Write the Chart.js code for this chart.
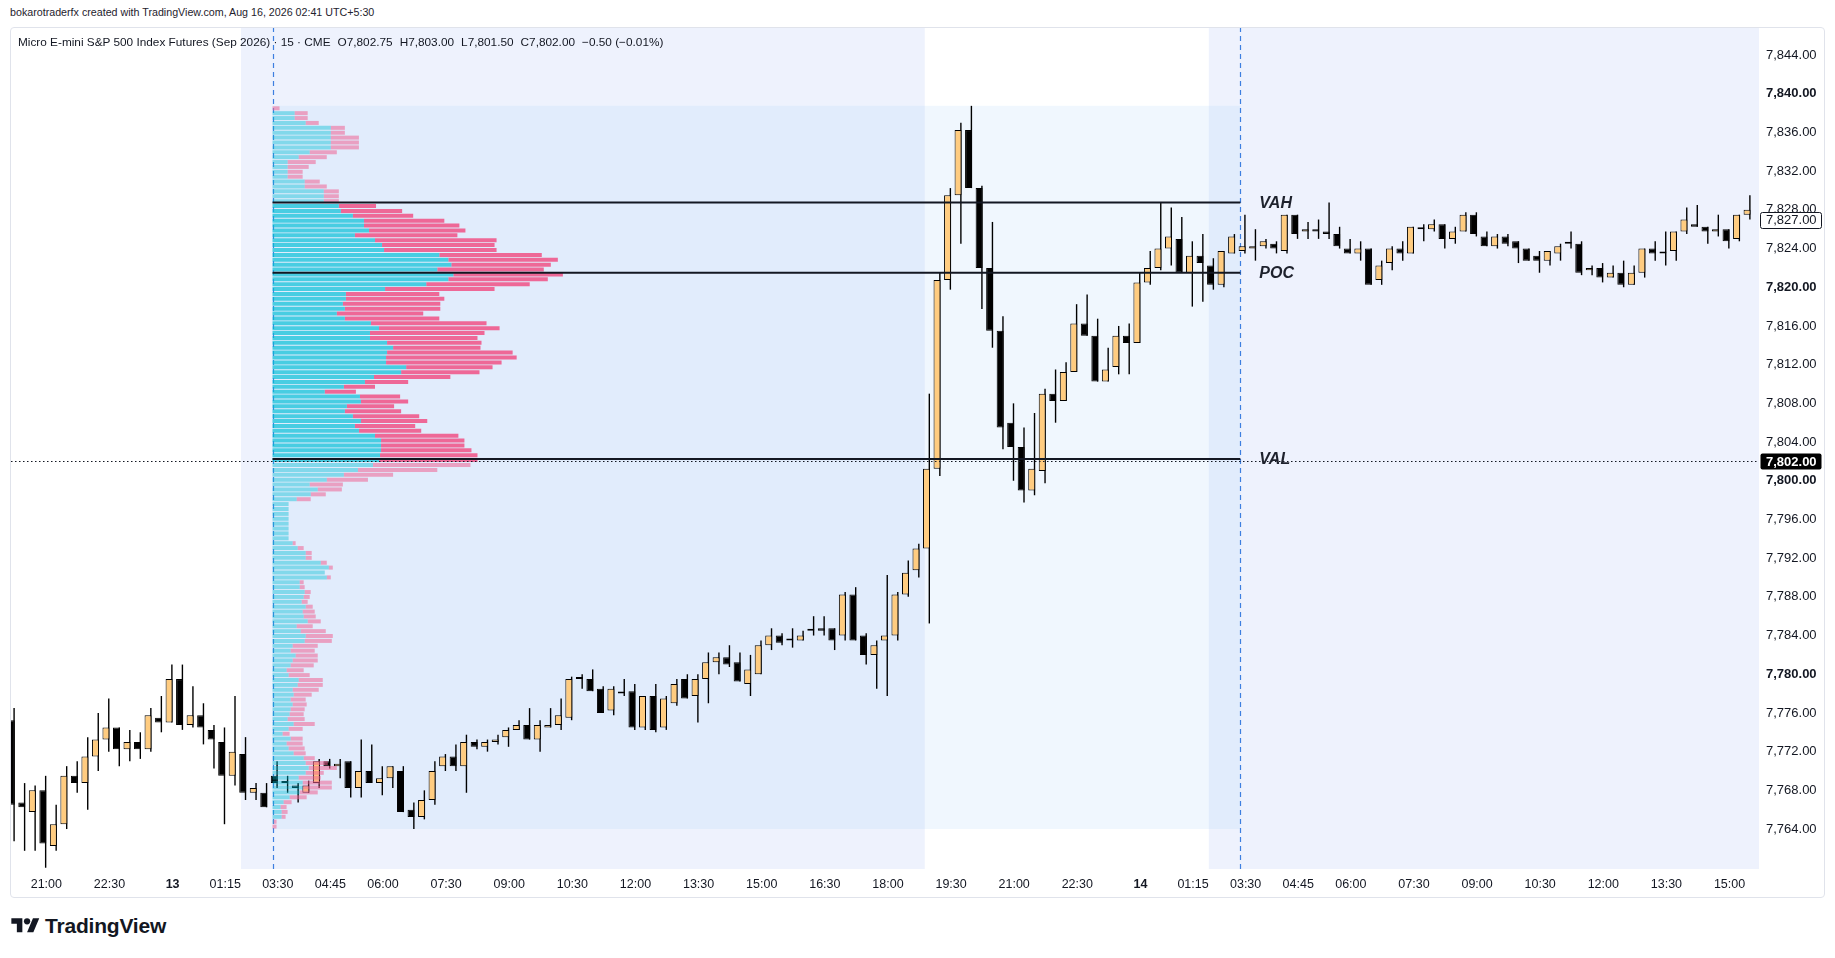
<!DOCTYPE html>
<html>
<head>
<meta charset="utf-8">
<script src="https://cdn.jsdelivr.net/npm/chart.js@4.4.1/dist/chart.umd.min.js"></script>
<style>
  html, body { margin: 0; padding: 0; background: #fff; width: 1835px; height: 958px; overflow: hidden; }
  body { font-family: "Liberation Sans", Arial, sans-serif; color: #131722; }
  #hdr { position: absolute; left: 10px; top: 6px; font-size: 10.7px; color: #1e222d; white-space: nowrap; }
  #wrap { position: absolute; left: 11px; top: 7px; width: 1813px; height: 890px; }
  #frame { position: absolute; left: 10px; top: 27px; width: 1815px; height: 871px; box-sizing: border-box;
           border: 1px solid #e0e3eb; border-radius: 4px; pointer-events: none; }
  #legend { position: absolute; left: 18px; top: 35px; font-size: 11.8px; white-space: nowrap; color: #131722; }
  #legend span { margin-left: 7px; }
  #logo { position: absolute; left: 11px; top: 914px; display: flex; align-items: center; }
  #logo b { font-size: 21px; font-weight: bold; margin-left: 5px; letter-spacing: -0.2px; color: #131722; }
</style>
</head>
<body>
<div id="hdr">bokarotraderfx created with TradingView.com, Aug 16, 2026 02:41 UTC+5:30</div>
<div id="wrap"><canvas id="myChart"></canvas></div>
<div id="frame"></div>
<div id="legend">Micro E-mini S&amp;P 500 Index Futures (Sep 2026) · 15 · CME<span>O7,802.75</span><span>H7,803.00</span><span>L7,801.50</span><span>C7,802.00</span><span>−0.50 (−0.01%)</span></div>
<div id="logo">
  <svg width="29" height="22" viewBox="0 0 36 28"><path d="M14 22H7V11H0V4h14v18zM28 22h-8l7.5-18h8L28 22z" fill="#131722"/><circle cx="20" cy="8" r="4" fill="#131722"/></svg>
  <b>TradingView</b>
</div>
<script>
"use strict";
const FONT = '"Liberation Sans", Arial, sans-serif';

// 15 min bars, 12 Aug 20:15 -> 14 Aug 15:30 (IST)
const opens = [
  7775.25, 7766.75, 7765.75, 7768.0, 7762.25, 7764.5, 7769.5, 7768.75, 7771.5, 7773.25,
  7774.5, 7772.25, 7773.0, 7772.25, 7775.5, 7775.0, 7779.5, 7774.75, 7775.75, 7774.25,
  7773.0, 7769.5, 7771.75, 7767.75, 7767.75, 7769.5, 7768.75, 7768.5, 7767.75, 7768.75,
  7771.0, 7770.5, 7771.0, 7768.25, 7770.0, 7768.75, 7769.25, 7770.0, 7766.0, 7765.25,
  7767.0, 7770.5, 7771.5, 7770.5, 7773.0, 7772.5, 7773.0, 7773.5, 7774.25, 7774.75,
  7773.25, 7774.5, 7774.75, 7775.5, 7779.5, 7779.5, 7778.5, 7776.25, 7778.0, 7778.25,
  7774.5, 7777.75, 7774.5, 7777.0, 7779.5, 7777.75, 7779.5, 7781.25, 7781.75, 7781.25,
  7779.0, 7780.0, 7783.0, 7784.0, 7783.5, 7783.5, 7784.5, 7784.75, 7784.75, 7784.0,
  7788.25, 7784.0, 7782.0, 7783.5, 7784.0, 7788.25, 7790.75, 7793.0, 7801.25, 7820.75,
  7829.5, 7836.25, 7830.25, 7822.0, 7815.5, 7806.0, 7803.5, 7799.0, 7801.0, 7809.0,
  7808.25, 7811.25, 7816.25, 7815.0, 7810.25, 7811.75, 7815.0, 7814.25, 7820.5, 7822.0,
  7824.0, 7825.0, 7821.5, 7823.25, 7822.25, 7820.25, 7823.5, 7823.75, 7824.0, 7824.25,
  7824.5, 7823.75, 7827.5, 7825.75, 7826.0, 7825.75, 7825.5, 7824.0, 7823.5, 7824.0,
  7820.75, 7822.5, 7824.0, 7823.5, 7826.0, 7826.0, 7826.5, 7825.0, 7825.75, 7827.5,
  7825.25, 7824.25, 7825.25, 7824.75, 7824.0, 7823.25, 7822.75, 7823.5, 7824.5, 7824.5,
  7821.75, 7822.0, 7821.0, 7821.5, 7820.25, 7821.5, 7824.0, 7823.5, 7823.75, 7825.75,
  7826.5, 7826.25, 7825.75, 7826.0, 7825.0, 7827.5
];
const highs = [
  7776.5, 7768.75, 7768.5, 7769.5, 7766.5, 7770.5, 7771.0, 7773.5, 7776.0, 7777.5,
  7774.5, 7774.25, 7774.0, 7776.5, 7777.75, 7781.0, 7781.0, 7778.75, 7777.0, 7774.75,
  7774.5, 7777.75, 7773.5, 7768.75, 7768.75, 7771.0, 7769.5, 7768.75, 7769.0, 7771.25,
  7771.25, 7771.25, 7771.0, 7773.25, 7772.75, 7770.5, 7770.5, 7770.5, 7766.75, 7768.0,
  7771.0, 7771.75, 7772.75, 7773.75, 7773.25, 7773.25, 7773.75, 7774.5, 7775.25, 7776.5,
  7775.25, 7776.5, 7777.5, 7779.75, 7780.0, 7780.5, 7778.75, 7778.75, 7779.5, 7779.0,
  7777.75, 7779.0, 7777.75, 7779.5, 7780.0, 7780.0, 7782.25, 7782.25, 7783.0, 7782.25,
  7782.0, 7783.5, 7784.75, 7784.25, 7784.75, 7784.5, 7786.0, 7786.0, 7784.75, 7788.5,
  7789.0, 7784.25, 7783.5, 7790.25, 7788.5, 7791.75, 7793.5, 7809.0, 7821.5, 7830.25,
  7837.0, 7838.75, 7830.5, 7826.75, 7817.0, 7808.0, 7805.5, 7807.0, 7809.5, 7811.5,
  7812.25, 7818.25, 7819.25, 7816.75, 7813.75, 7816.0, 7816.25, 7821.5, 7823.75, 7828.75,
  7828.25, 7827.25, 7824.75, 7825.5, 7823.0, 7823.75, 7825.5, 7827.5, 7826.0, 7825.0,
  7824.75, 7827.5, 7827.5, 7826.75, 7827.0, 7828.75, 7826.25, 7825.0, 7824.75, 7824.0,
  7822.75, 7824.25, 7824.75, 7826.25, 7826.5, 7827.0, 7826.5, 7826.25, 7827.75, 7827.75,
  7825.75, 7825.5, 7825.5, 7824.75, 7824.0, 7823.75, 7823.75, 7824.5, 7825.75, 7824.75,
  7822.25, 7822.5, 7822.25, 7822.75, 7822.25, 7824.0, 7824.75, 7825.75, 7825.75, 7828.25,
  7828.5, 7826.25, 7827.5, 7826.0, 7827.5, 7829.5
];
const lows = [
  7762.75, 7761.75, 7761.75, 7760.0, 7761.75, 7764.0, 7767.75, 7766.0, 7770.0, 7772.0,
  7770.5, 7771.0, 7771.25, 7772.0, 7774.0, 7775.0, 7774.25, 7774.5, 7772.75, 7770.25,
  7764.5, 7768.5, 7767.0, 7767.0, 7766.25, 7768.25, 7767.75, 7766.75, 7767.75, 7768.25,
  7770.25, 7769.25, 7767.25, 7767.25, 7768.75, 7767.5, 7768.25, 7765.75, 7764.0, 7765.0,
  7766.5, 7770.0, 7770.0, 7767.75, 7772.25, 7772.0, 7772.75, 7772.5, 7774.25, 7773.25,
  7772.0, 7774.5, 7774.25, 7775.25, 7778.5, 7778.25, 7776.0, 7775.75, 7777.75, 7774.25,
  7774.25, 7774.0, 7774.25, 7776.75, 7777.5, 7775.0, 7777.0, 7780.0, 7780.75, 7779.25,
  7777.75, 7780.0, 7782.5, 7783.0, 7782.75, 7783.5, 7784.0, 7784.0, 7782.5, 7783.5,
  7783.5, 7781.0, 7778.5, 7777.75, 7783.5, 7788.0, 7790.0, 7785.25, 7800.5, 7819.75,
  7824.5, 7830.25, 7817.75, 7813.75, 7803.25, 7800.0, 7797.75, 7798.5, 7799.75, 7806.0,
  7808.25, 7811.25, 7815.0, 7810.25, 7810.25, 7811.0, 7811.0, 7814.25, 7820.25, 7821.75,
  7822.25, 7821.5, 7818.0, 7818.5, 7819.75, 7820.0, 7823.5, 7823.5, 7822.75, 7824.0,
  7823.5, 7823.5, 7825.0, 7825.0, 7825.0, 7825.0, 7824.0, 7823.5, 7822.75, 7820.25,
  7820.25, 7821.75, 7822.75, 7823.5, 7824.75, 7825.75, 7824.0, 7824.5, 7825.75, 7825.25,
  7824.25, 7824.0, 7824.25, 7822.5, 7822.75, 7821.5, 7822.25, 7822.75, 7824.0, 7821.25,
  7821.25, 7820.5, 7821.0, 7820.0, 7820.25, 7821.0, 7822.75, 7822.25, 7822.75, 7825.5,
  7826.25, 7824.5, 7825.25, 7824.0, 7824.75, 7827.0
];
const closes = [
  7766.5, 7766.25, 7768.0, 7762.5, 7764.5, 7769.5, 7768.75, 7771.5, 7773.25, 7774.5,
  7772.25, 7773.0, 7772.25, 7775.75, 7775.0, 7779.5, 7774.75, 7775.75, 7774.5, 7773.25,
  7769.5, 7772.0, 7767.75, 7768.25, 7766.25, 7768.75, 7768.75, 7768.25, 7768.5, 7771.0,
  7770.5, 7770.75, 7768.25, 7770.0, 7768.75, 7769.25, 7770.5, 7765.75, 7765.25, 7767.0,
  7770.0, 7771.5, 7770.5, 7773.0, 7772.5, 7773.0, 7773.25, 7774.25, 7774.75, 7773.25,
  7774.75, 7774.75, 7775.75, 7779.5, 7779.5, 7778.25, 7776.0, 7778.5, 7778.0, 7774.5,
  7777.75, 7774.25, 7777.5, 7779.0, 7777.5, 7779.5, 7781.25, 7781.75, 7781.0, 7779.25,
  7780.5, 7783.0, 7784.0, 7783.25, 7783.5, 7784.0, 7784.5, 7784.5, 7783.5, 7788.25,
  7783.5, 7782.0, 7783.0, 7784.0, 7788.25, 7790.5, 7793.0, 7801.25, 7820.75, 7829.5,
  7836.25, 7830.25, 7822.0, 7815.5, 7805.5, 7803.5, 7799.0, 7801.25, 7809.0, 7808.25,
  7811.25, 7816.25, 7815.0, 7810.25, 7811.5, 7815.0, 7814.25, 7820.5, 7822.0, 7824.0,
  7825.25, 7821.5, 7823.25, 7822.5, 7820.25, 7823.75, 7825.25, 7824.25, 7824.25, 7824.75,
  7824.0, 7827.5, 7825.5, 7826.0, 7825.75, 7825.5, 7824.25, 7823.5, 7824.0, 7820.25,
  7822.25, 7824.0, 7823.5, 7826.25, 7826.0, 7826.5, 7825.0, 7825.75, 7827.5, 7825.5,
  7824.25, 7825.25, 7824.5, 7824.0, 7822.75, 7822.75, 7823.75, 7824.25, 7824.5, 7821.5,
  7822.0, 7821.0, 7821.5, 7820.25, 7821.5, 7824.0, 7823.5, 7823.5, 7825.75, 7827.0,
  7826.25, 7825.75, 7826.0, 7824.75, 7827.5, 7828.0
];

// time axis labels (bar index -> text)
const tickIdx = [3, 9, 15, 20, 25, 30, 35, 41, 47, 53, 59, 65, 71, 77, 83, 89, 95, 101,
                 107, 112, 117, 122, 127, 133, 139, 145, 151, 157, 163];
const tickText = ['21:00', '22:30', '13', '01:15', '03:30', '04:45', '06:00', '07:30', '09:00',
                  '10:30', '12:00', '13:30', '15:00', '16:30', '18:00', '19:30', '21:00', '22:30',
                  '14', '01:15', '03:30', '04:45', '06:00', '07:30', '09:00', '10:30', '12:00',
                  '13:30', '15:00'];
const priceTicks = [7764, 7768, 7772, 7776, 7780, 7784, 7788, 7792, 7796, 7800, 7804,
                    7808, 7812, 7816, 7820, 7824, 7828, 7832, 7836, 7840, 7844];

// sessions: extended-hours spans (shaded) and session starts (dashed)
const ethSpans = [[21.5, 86.5], [113.5, 170]];
const session = [24.5, 116.5];

// session volume profile, rows from top (high) to bottom (low)
const profileHigh = 7838.75;
const profileLow = 7764.0;
const volUp = [
  0, 66, 66, 99, 174, 174, 174, 174, 174, 111, 78, 45, 45, 45, 45, 96, 96, 153, 153, 153,
  198, 204, 240, 273, 273, 288, 246, 306, 327, 333, 498, 525, 534, 492, 540, 525, 459, 336, 219, 219,
  210, 216, 192, 216, 294, 318, 291, 291, 342, 360, 342, 339, 339, 399, 384, 303, 276, 213, 156, 261,
  264, 222, 216, 240, 264, 246, 258, 306, 324, 324, 324, 321, 318, 300, 255, 213, 162, 111, 135, 114,
  72, 48, 48, 48, 48, 48, 48, 48, 48, 60, 75, 99, 99, 144, 168, 156, 162, 81, 81, 96,
  93, 87, 99, 90, 93, 105, 72, 84, 99, 96, 60, 54, 69, 60, 54, 42, 48, 78, 75, 60,
  63, 54, 60, 54, 51, 45, 63, 48, 30, 54, 42, 48, 63, 93, 99, 108, 99, 78, 90, 90,
  81, 51, 33, 24, 27, 27, 3, 0
];
const volDown = [
  21, 39, 39, 39, 42, 42, 84, 84, 84, 81, 84, 84, 63, 45, 45, 45, 66, 45, 45, 45,
  111, 183, 180, 240, 285, 288, 306, 363, 336, 336, 306, 327, 297, 318, 327, 297, 309, 327, 279, 294,
  291, 285, 258, 282, 345, 360, 342, 321, 282, 261, 375, 390, 345, 258, 234, 228, 129, 93, 93, 120,
  141, 141, 168, 198, 198, 180, 186, 249, 249, 249, 270, 291, 294, 291, 237, 147, 123, 99, 72, 45,
  42, 0, 0, 0, 0, 0, 0, 0, 0, 9, 18, 18, 18, 18, 12, 0, 12, 12, 15, 18,
  18, 18, 21, 36, 36, 39, 48, 75, 81, 81, 75, 72, 66, 75, 69, 51, 63, 72, 75, 78,
  54, 45, 42, 42, 42, 51, 63, 42, 21, 36, 48, 48, 36, 33, 66, 84, 54, 66, 87, 87,
  54, 51, 24, 18, 18, 12, 9, 12
];
const levels = [['VAH', 7828.75], ['POC', 7821.5], ['VAL', 7802.25]];
const lastPrice = 7802.0;
const markPrice = 7827.0;

// view
const xMin = -0.36, xMax = 165.8;
const yMin = 7759.87, yMax = 7846.9;
const profileWidth = 0.3;

const bin = (profileHigh - profileLow) / volUp.length;
const rowPrice = volUp.map((v, i) => profileHigh - (i + 0.5) * bin);
const vah = levels[0][1], val = levels[2][1];
const inVA = rowPrice.map(p => p >= val - bin / 2 && p <= vah);
const maxRow = Math.max(...volUp.map((v, i) => v + volDown[i]));
const volPerBar = maxRow / (profileWidth * (session[1] - session[0]));

const fmt = v => v.toLocaleString('en-US', { minimumFractionDigits: 2, maximumFractionDigits: 2 });

const overlay = {
  id: 'overlay',
  beforeDatasetsDraw(chart) {
    const { ctx, chartArea: a, scales: { x, y } } = chart;
    ctx.save();
    ctx.beginPath();
    ctx.rect(a.left, a.top, a.width, a.height);
    ctx.clip();
    ctx.fillStyle = '#ffffff';
    ctx.fillRect(a.left, a.top, a.width, a.height);
    ctx.fillStyle = '#eef2fd';
    ethSpans.forEach(([s, e]) => {
      const x0 = x.getPixelForValue(s), x1 = x.getPixelForValue(e);
      ctx.fillRect(x0, a.top, x1 - x0, a.height);
    });
    const bx0 = x.getPixelForValue(session[0]), bx1 = x.getPixelForValue(session[1]);
    const by0 = y.getPixelForValue(profileHigh), by1 = y.getPixelForValue(profileLow);
    ctx.fillStyle = 'rgba(162,208,248,0.16)';
    ctx.fillRect(bx0, by0, bx1 - bx0, by1 - by0);
    ctx.strokeStyle = '#3d7fe0';
    ctx.lineWidth = 1.2;
    ctx.setLineDash([5, 4]);
    session.forEach(s => {
      const px = Math.round(x.getPixelForValue(s)) + 0.5;
      ctx.beginPath();
      ctx.moveTo(px, a.top);
      ctx.lineTo(px, a.bottom);
      ctx.stroke();
    });
    ctx.restore();
  },
  afterDatasetsDraw(chart) {
    const { ctx, chartArea: a, scales: { x, y } } = chart;
    ctx.save();
    // last price dotted line
    const py = Math.round(y.getPixelForValue(lastPrice)) + 0.5;
    ctx.strokeStyle = '#131722';
    ctx.lineWidth = 1;
    ctx.setLineDash([1.5, 2.5]);
    ctx.beginPath();
    ctx.moveTo(a.left, py);
    ctx.lineTo(a.right, py);
    ctx.stroke();
    ctx.setLineDash([]);
    // value area labels
    ctx.font = 'italic bold 16px ' + FONT;
    ctx.fillStyle = '#1e222d';
    ctx.textBaseline = 'middle';
    const lx = x.getPixelForValue(session[1]) + 19;
    levels.forEach(([name, p]) => ctx.fillText(name, lx, y.getPixelForValue(p) + 1));
    ctx.restore();
  },
  afterDraw(chart) {
    const { ctx, chartArea: a, scales: { y } } = chart;
    ctx.save();
    const tag = (p, fill, stroke, color, weight) => {
      const cy = y.getPixelForValue(p);
      const x0 = a.right + 1.5, w = 61, h = 16;
      ctx.beginPath();
      ctx.roundRect(x0, Math.round(cy - h / 2) + 0.5, w, h, 2);
      ctx.fillStyle = fill;
      ctx.fill();
      if (stroke) { ctx.strokeStyle = stroke; ctx.lineWidth = 1; ctx.stroke(); }
      ctx.fillStyle = color;
      ctx.font = weight + ' 13px ' + FONT;
      ctx.textBaseline = 'middle';
      ctx.fillText(fmt(p), a.right + 7, cy + 1);
    };
    tag(markPrice, '#ffffff', '#131722', '#131722', 'normal');
    tag(lastPrice, '#000000', null, '#ffffff', 'bold');
    ctx.restore();
  }
};

const ctx = document.getElementById('myChart');
const myChart = new Chart(ctx, {
  type: 'bar',
  data: {
    datasets: [
      ...levels.map(([name, p]) => ({
        type: 'line',
        label: name,
        data: [{ x: session[0], y: p }, { x: session[1], y: p }],
        borderColor: '#131722',
        borderWidth: 2,
        pointRadius: 0,
        order: -1
      })),
      {
        label: 'Up volume',
        indexAxis: 'y',
        xAxisID: 'xv',
        yAxisID: 'yp',
        data: volUp.map((v, i) => ({ x: v, y: rowPrice[i] })),
        backgroundColor: inVA.map(f => f ? 'rgba(0,190,214,0.68)' : 'rgba(0,188,212,0.42)'),
        grouped: false,
        barPercentage: 0.82,
        categoryPercentage: 1,
        inflateAmount: 0,
        order: 0
      },
      {
        label: 'Down volume',
        indexAxis: 'y',
        xAxisID: 'xv',
        yAxisID: 'yp',
        data: volDown.map((v, i) => ({ x: v, y: rowPrice[i] })),
        backgroundColor: inVA.map(f => f ? 'rgba(240,90,140,0.9)' : 'rgba(240,98,146,0.55)'),
        grouped: false,
        barPercentage: 0.82,
        categoryPercentage: 1,
        inflateAmount: 0,
        order: 0
      },
      {
        label: 'Body',
        data: opens.map((o, i) => ({ x: i, y: [o, closes[i]] })),
        backgroundColor: opens.map((o, i) => closes[i] > o ? '#ffcc80' : '#000000'),
        borderColor: '#000000',
        borderWidth: 1,
        borderSkipped: false,
        barThickness: 7,
        minBarLength: 2,
        inflateAmount: 0,
        order: 1
      },
      {
        label: 'Wick',
        data: lows.map((l, i) => ({ x: i, y: [l, highs[i]] })),
        backgroundColor: '#000000',
        barThickness: 1.4,
        inflateAmount: 0,
        order: 2
      }
    ]
  },
  options: {
    responsive: true,
    maintainAspectRatio: false,
    animation: false,
    events: [],
    layout: { padding: { top: 20, left: 0, right: 0, bottom: 0 } },
    plugins: { legend: { display: false }, tooltip: { enabled: false } },
    scales: {
      x: {
        type: 'linear',
        min: xMin,
        max: xMax,
        offset: false,
        stacked: true,
        grid: { display: false, drawTicks: false },
        border: { display: false },
        afterBuildTicks: s => { s.ticks = tickIdx.map(v => ({ value: v })); },
        afterFit: s => { s.height = 28; },
        ticks: {
          autoSkip: false,
          maxRotation: 0,
          padding: 8,
          color: '#131722',
          font: c => ({ family: FONT, size: 12.5, weight: (tickText[c.index] || '').length <= 2 ? 'bold' : 'normal' }),
          callback: (v, i) => tickText[i]
        }
      },
      y: {
        type: 'linear',
        position: 'right',
        min: yMin,
        max: yMax,
        offset: false,
        stacked: false,
        beginAtZero: false,
        grid: { display: false, drawTicks: false },
        border: { display: false },
        afterBuildTicks: s => { s.ticks = priceTicks.map(v => ({ value: v })); },
        afterFit: s => { s.width = 65; },
        ticks: {
          padding: 7,
          color: '#131722',
          font: c => ({ family: FONT, size: 13, weight: c.tick && c.tick.value % 20 === 0 ? 'bold' : 'normal' }),
          callback: v => fmt(v)
        }
      },
      yp: {
        type: 'linear',
        display: false,
        min: yMin,
        max: yMax,
        offset: false,
        stacked: true,
        // no ticks here, so the row height comes from the row spacing only
        afterBuildTicks: s => { s.ticks = []; }
      },
      xv: {
        type: 'linear',
        display: false,
        offset: false,
        stacked: true,
        beginAtZero: false,
        min: -(session[0] - xMin) * volPerBar,
        max: (xMax - session[0]) * volPerBar
      }
    }
  },
  plugins: [overlay]
});
</script>
</body>
</html>
